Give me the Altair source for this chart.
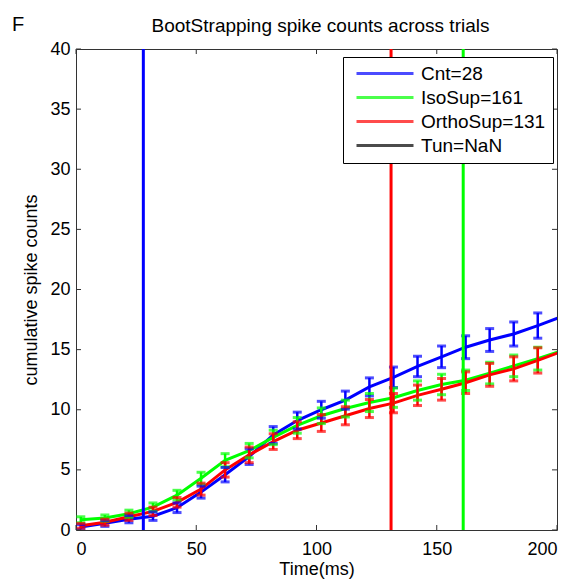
import altair as alt
import pandas as pd

# Bootstrap bins (ms) and mean cumulative spike counts per condition
time_ms = [2, 12, 22, 32, 42, 52, 62, 72, 82, 92, 102, 112, 122, 132, 142, 152, 162, 172, 182, 192, 202]

cnt_mean = [0.25, 0.55, 0.9, 1.15, 1.85, 3.15, 4.6, 6.1, 7.9, 9.1, 10.0, 10.8, 11.9, 12.7, 13.6, 14.4, 15.2, 15.8, 16.3, 17.0, 17.75]
cnt_err = [0.2, 0.25, 0.3, 0.35, 0.4, 0.5, 0.6, 0.65, 0.7, 0.7, 0.7, 0.75, 0.75, 0.85, 0.85, 0.9, 0.95, 0.95, 1.0, 1.05, 1.1]

iso_mean = [0.85, 1.0, 1.35, 1.9, 2.9, 4.3, 5.8, 6.6, 7.7, 8.7, 9.5, 10.1, 10.6, 11.0, 11.6, 12.1, 12.45, 13.05, 13.65, 14.25, 14.9]
iso_err = [0.25, 0.25, 0.3, 0.35, 0.4, 0.5, 0.55, 0.6, 0.6, 0.65, 0.65, 0.7, 0.75, 0.8, 0.8, 0.85, 0.85, 0.9, 0.9, 0.95, 1.0]

ortho_mean = [0.35, 0.65, 1.1, 1.55, 2.3, 3.4, 5.0, 6.25, 7.35, 8.3, 8.9, 9.5, 10.1, 10.55, 11.2, 11.7, 12.25, 12.9, 13.4, 14.1, 14.85]
ortho_err = [0.2, 0.25, 0.3, 0.35, 0.4, 0.5, 0.6, 0.65, 0.65, 0.7, 0.7, 0.75, 0.75, 0.8, 0.85, 0.9, 0.9, 0.95, 1.0, 1.05, 1.1]

series_names = ["Cnt=28", "IsoSup=161", "OrthoSup=131", "Tun=NaN"]
series_colors = ["#0000ff", "#00ff00", "#ff0000", "#000000"]

# Latency markers (Tun is NaN, so it has none)
onset_names = ["Cnt=28", "IsoSup=161", "OrthoSup=131"]
onset_ms = [28, 161, 131]

x_ticks = [0, 50, 100, 150, 200]
y_ticks = [0, 5, 10, 15, 20, 25, 30, 35, 40]

title_text = "BootStrapping spike counts across trials"
panel_letter = "F"

W, H = 481, 481
FONT = "Liberation Sans"

rows = []
for name, means, errs in [
    (series_names[0], cnt_mean, cnt_err),
    (series_names[1], iso_mean, iso_err),
    (series_names[2], ortho_mean, ortho_err),
]:
    for t, m, e in zip(time_ms, means, errs):
        rows.append({"t": t, "count": m, "lo": m - e, "hi": m + e, "series": name})
df = pd.DataFrame(rows)
onsets = pd.DataFrame({"t": onset_ms, "series": onset_names})

xscale = alt.Scale(domain=[0, 200], nice=False, zero=False)
yscale = alt.Scale(domain=[0, 40], nice=False)
xaxis = alt.Axis(values=x_ticks, title="Time(ms)", grid=False, ticks=False, domain=False,
                 labelPadding=10, titlePadding=2)
yaxis = alt.Axis(values=y_ticks, title="cumulative spike counts", grid=False, ticks=False,
                 domain=False, labelPadding=6, titlePadding=9)

legend = alt.Legend(
    orient="none", legendX=267, legendY=8, title=None,
    symbolType="M-6.125,0H1", symbolSize=256, symbolStrokeWidth=3,
    symbolOffset=46, labelOffset=6, labelFontSize=19, labelFont=FONT,
    labelColor="black", labelLimit=400, padding=7, rowPadding=4,
    strokeColor="black", fillColor="white",
)
color = alt.Color("series:N", scale=alt.Scale(domain=series_names, range=series_colors),
                  legend=legend)


def X(field):
    return alt.X(field, type="quantitative", scale=xscale, axis=xaxis)


def Y(field):
    return alt.Y(field, type="quantitative", scale=yscale, axis=yaxis)


base = alt.Chart(df)

lines = base.mark_line(strokeWidth=3, clip=True).encode(x=X("t"), y=Y("count"), color=color)
bars = base.mark_rule(strokeWidth=2.5, clip=True).encode(x=X("t"), y=Y("lo"), y2="hi", color=color)
caps_lo = base.mark_tick(orient="horizontal", size=9, thickness=3, clip=True).encode(
    x=X("t"), y=Y("lo"), color=color)
caps_hi = base.mark_tick(orient="horizontal", size=9, thickness=3, clip=True).encode(
    x=X("t"), y=Y("hi"), color=color)

onset_rules = alt.Chart(onsets).mark_rule(strokeWidth=3).encode(x=X("t"), color=color)

# Inward tick marks on all four sides of the box
xt = alt.Chart(pd.DataFrame({"v": x_ticks}))
yt = alt.Chart(pd.DataFrame({"v": y_ticks}))
tick_col = "#333333"
ticks_bottom = xt.mark_rule(color=tick_col).encode(x=X("v"), y=alt.value(H), y2=alt.value(H - 5))
ticks_top = xt.mark_rule(color=tick_col).encode(x=X("v"), y=alt.value(0), y2=alt.value(5))
ticks_left = yt.mark_rule(color=tick_col).encode(y=Y("v"), x=alt.value(0), x2=alt.value(5))
ticks_right = yt.mark_rule(color=tick_col).encode(y=Y("v"), x=alt.value(W), x2=alt.value(W - 5))

# Heading and panel letter above the box
heading = alt.Chart(pd.DataFrame({"s": [title_text]})).mark_text(
    fontSize=19, font=FONT, align="center", baseline="middle", color="black"
).encode(text="s:N", x=alt.value(W / 2 + 4), y=alt.value(-23))
panel = alt.Chart(pd.DataFrame({"p": [panel_letter]})).mark_text(
    fontSize=20, font=FONT, align="left", baseline="middle", color="black"
).encode(text="p:N", x=alt.value(-64), y=alt.value(-24))

chart = alt.layer(
    lines, bars, caps_lo, caps_hi, onset_rules,
    ticks_bottom, ticks_top, ticks_left, ticks_right, heading, panel,
).properties(
    width=W, height=H,
    autosize=alt.AutoSizeParams(type="none"),
    padding={"left": 76, "top": 49, "right": 21, "bottom": 52},
).configure_view(
    stroke="#333333", strokeWidth=1
).configure_axis(
    labelFont=FONT, labelFontSize=18, labelColor="black",
    titleFont=FONT, titleFontSize=18, titleFontWeight="normal", titleColor="black",
)

chart.save("out.html", embed_options={"renderer": "svg", "actions": False})
